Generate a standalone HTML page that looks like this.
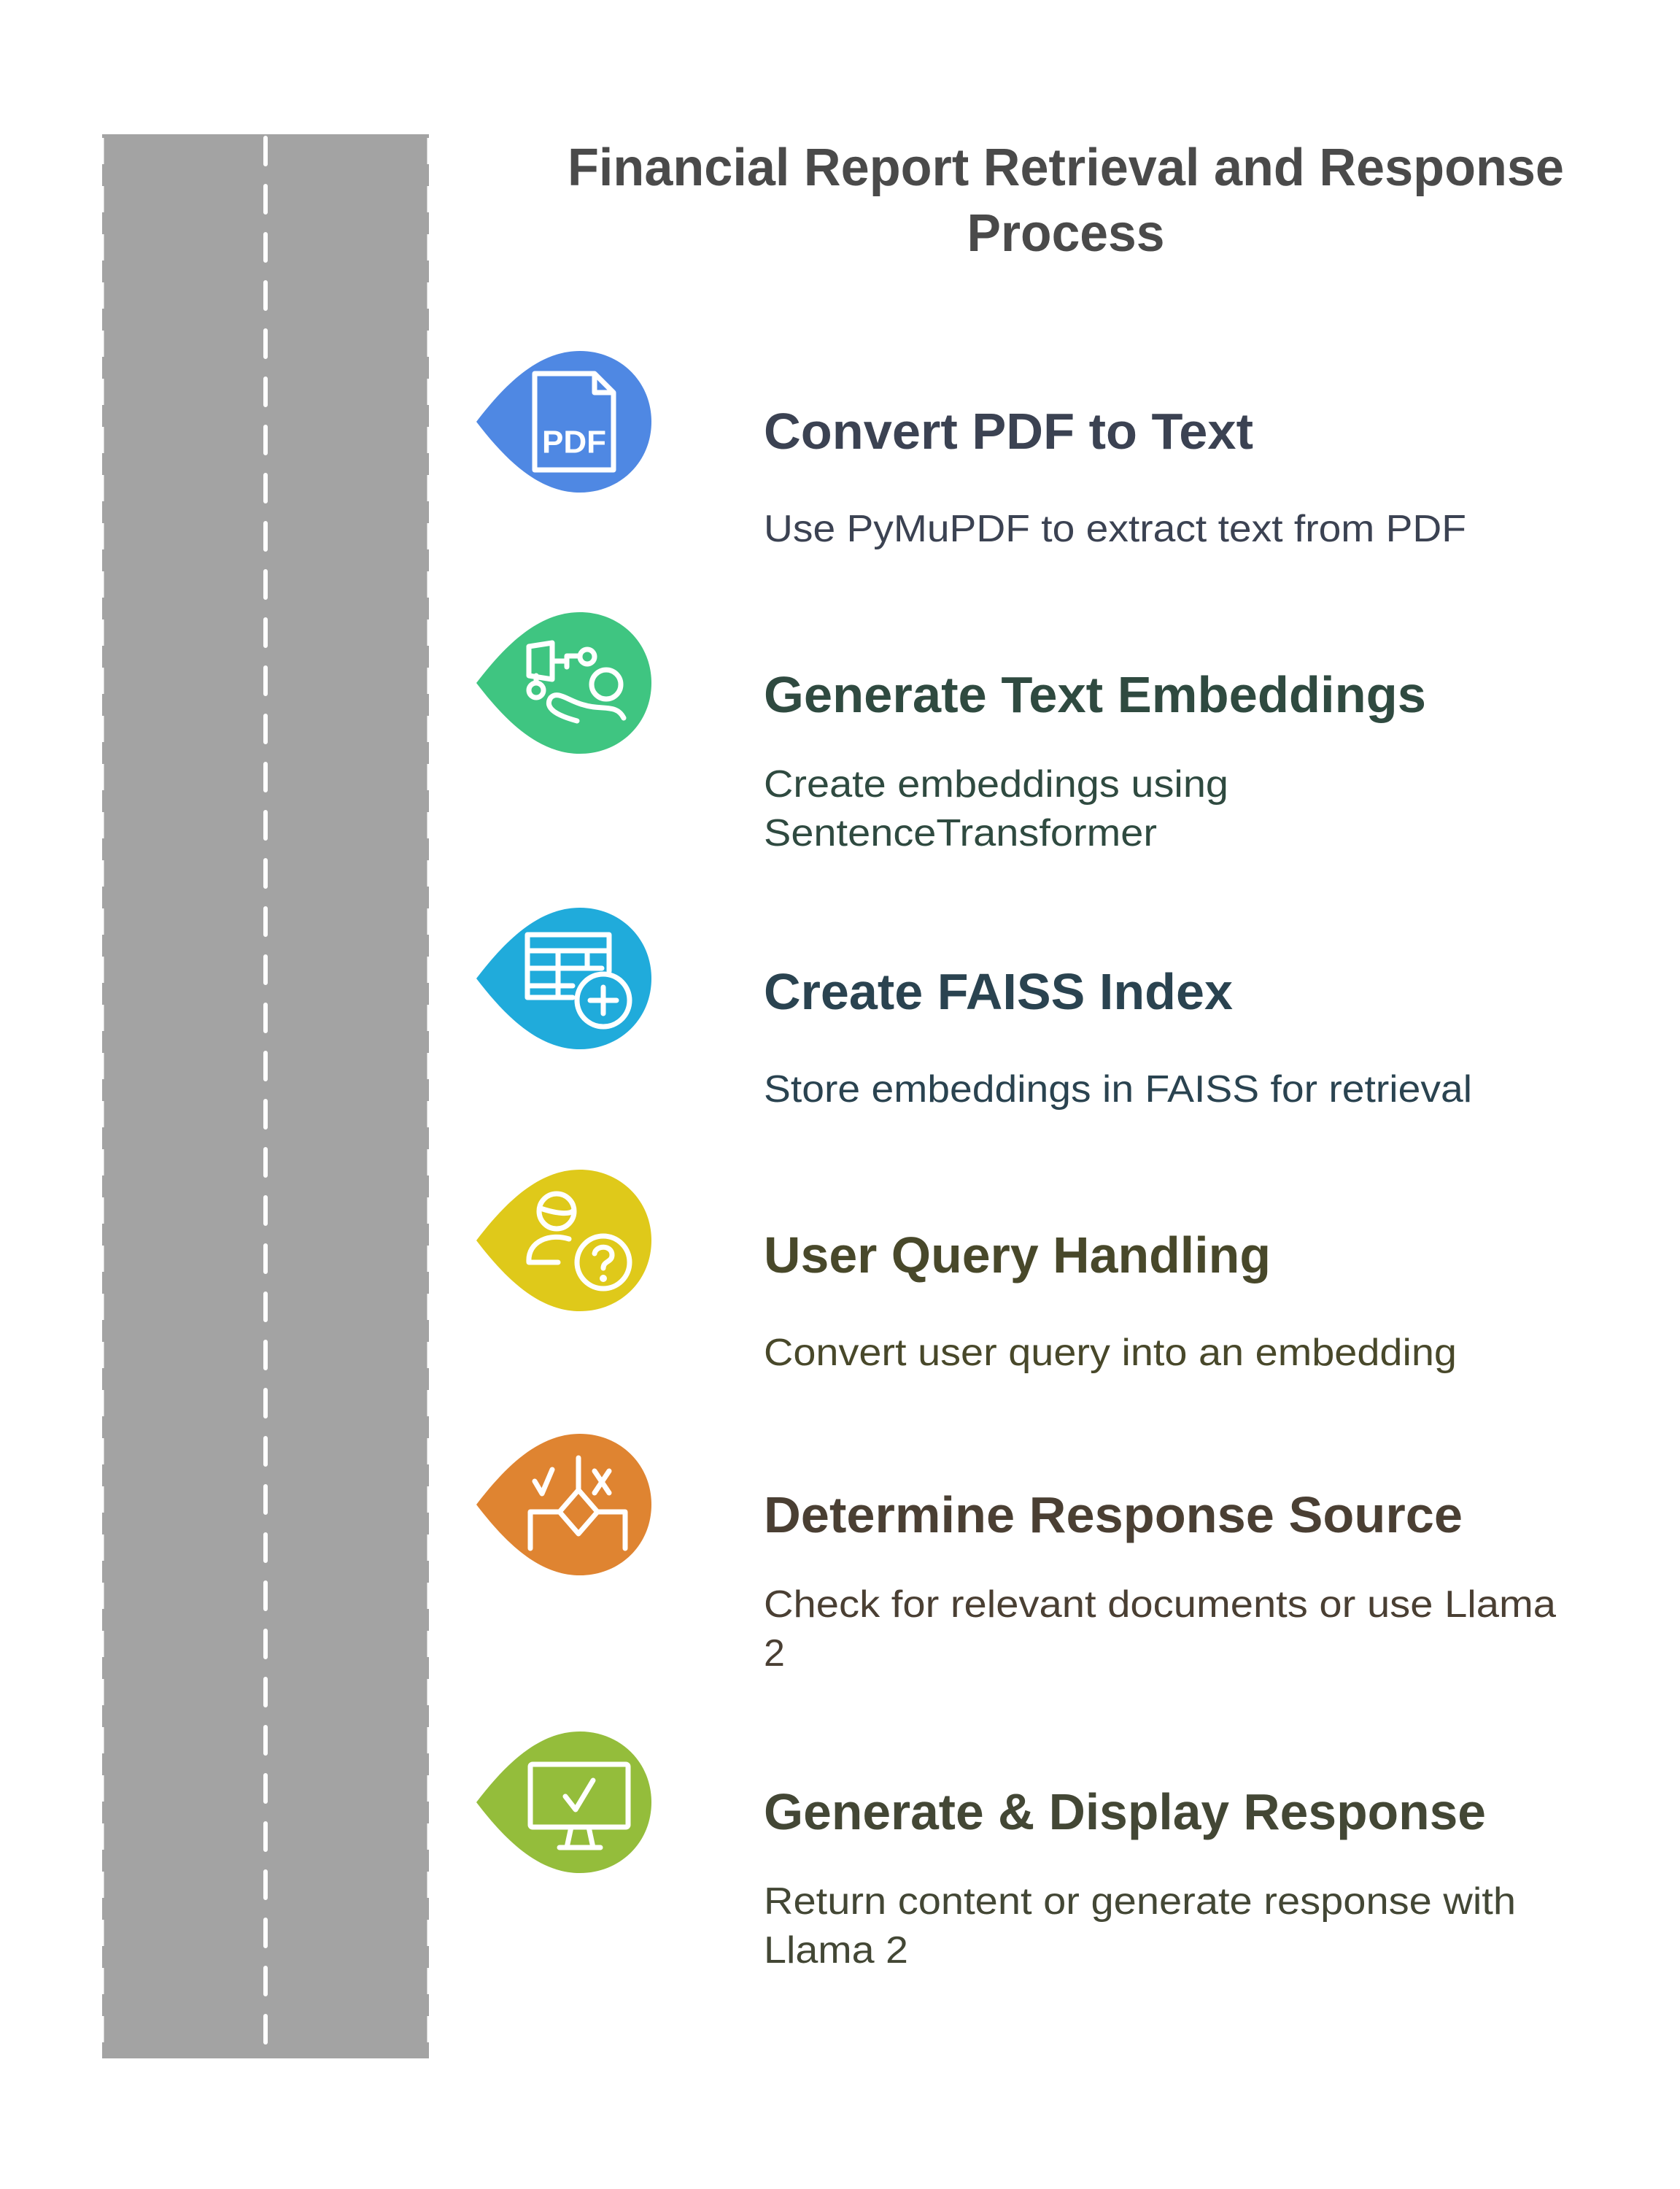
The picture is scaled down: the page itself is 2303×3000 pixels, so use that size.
<!DOCTYPE html>
<html><head><meta charset="utf-8"><style>
html,body{margin:0;padding:0;background:#fff;}
svg{display:block;}
text{font-family:"Liberation Sans",Arial,sans-serif;}
</style></head><body>
<svg width="2303" height="3000" viewBox="0 0 2303 3000" xmlns="http://www.w3.org/2000/svg">
<defs>
<path id="drop" d="M-142,0 C-100,-55 -55,-97 0,-97 C55,-97 98,-55 98,0 C98,55 55,97 0,97 C-55,97 -100,55 -142,0 Z"/>
</defs>
<!-- road -->
<rect x="140" y="184" width="448" height="2637" fill="#a3a3a3"/>
<line x1="364" y1="189" x2="364" y2="2821" stroke="#fff" stroke-width="6" stroke-dasharray="36 30" stroke-linecap="round"/>
<line x1="141" y1="189" x2="141" y2="2821" stroke="#fff" stroke-width="3" stroke-dasharray="36 30"/>
<line x1="587" y1="189" x2="587" y2="2821" stroke="#fff" stroke-width="3" stroke-dasharray="36 30"/>

<!-- main title -->
<text x="1461" y="230" font-size="72" font-weight="bold" fill="#4a4a4a" text-anchor="middle" dominant-baseline="central" textLength="1366" lengthAdjust="spacingAndGlyphs">Financial Report Retrieval and Response</text>
<text x="1461" y="320" font-size="72" font-weight="bold" fill="#4a4a4a" text-anchor="middle" dominant-baseline="central" textLength="271" lengthAdjust="spacingAndGlyphs">Process</text>

<!-- step 1 -->
<g transform="translate(795,578)">
<use href="#drop" fill="#4f88e3"/>
<g fill="none" stroke="#fff" stroke-width="7" stroke-linejoin="round">
<path d="M-62,-66 H20 L46,-40 V66 H-62 Z"/><path d="M20,-66 V-40 H46"/>
</g>
<text x="-8" y="28" font-size="44" font-weight="bold" fill="#fff" text-anchor="middle" dominant-baseline="central">PDF</text>
</g>
<text x="1047" y="591" font-size="70" font-weight="bold" fill="#3b4252" dominant-baseline="central" textLength="671" lengthAdjust="spacingAndGlyphs">Convert PDF to Text</text>
<text x="1047" y="725" font-size="52" fill="#3b4252" dominant-baseline="central" textLength="963" lengthAdjust="spacingAndGlyphs">Use PyMuPDF to extract text from PDF</text>

<!-- step 2 -->
<g transform="translate(795,936)">
<use href="#drop" fill="#3fc581"/>
<g fill="none" stroke="#fff" stroke-width="7" stroke-linecap="round" stroke-linejoin="round">
<path d="M-70,-50 L-38,-55 V-5 L-70,-10 Z"/><path d="M-38,-30 H-18 M-18,-37 V-22 M-18,-37 H-2"/>
<circle cx="10" cy="-36" r="10"/><circle cx="-60" cy="10" r="10"/><path d="M-60,-10 V0"/>
<circle cx="36" cy="2" r="20"/>
<path d="M-4,52 C-30,45 -50,35 -40,20 C-30,10 -15,25 5,30 C30,38 50,28 60,48"/>
</g>
</g>
<text x="1047" y="952" font-size="70" font-weight="bold" fill="#2f4a40" dominant-baseline="central" textLength="908" lengthAdjust="spacingAndGlyphs">Generate Text Embeddings</text>
<text x="1047" y="1075" font-size="52" fill="#2f4a40" dominant-baseline="central" textLength="637" lengthAdjust="spacingAndGlyphs">Create embeddings using</text>
<text x="1047" y="1142" font-size="52" fill="#2f4a40" dominant-baseline="central" textLength="539" lengthAdjust="spacingAndGlyphs">SentenceTransformer</text>

<!-- step 3 -->
<g transform="translate(795,1341)">
<use href="#drop" fill="#20abdb"/>
<g fill="none" stroke="#fff" stroke-width="7" stroke-linecap="round" stroke-linejoin="round">
<path d="M40,-10 V-60 H-72 V26 H-10"/>
<path d="M-72,-38 H40 M-72,-14 H30 M-72,10 H-10 M-30,-38 V26 M10,-38 V-14"/>
<circle cx="32" cy="30" r="36"/><path d="M32,12 V48 M14,30 H50"/>
</g>
</g>
<text x="1047" y="1359" font-size="70" font-weight="bold" fill="#2a4350" dominant-baseline="central" textLength="643" lengthAdjust="spacingAndGlyphs">Create FAISS Index</text>
<text x="1047" y="1493" font-size="52" fill="#2a4350" dominant-baseline="central" textLength="971" lengthAdjust="spacingAndGlyphs">Store embeddings in FAISS for retrieval</text>

<!-- step 4 -->
<g transform="translate(795,1700)">
<use href="#drop" fill="#dfc91a"/>
<g fill="none" stroke="#fff" stroke-width="7" stroke-linecap="round" stroke-linejoin="round">
<circle cx="-32" cy="-40" r="24"/><path d="M-54,-44 C-30,-36 -15,-36 -10,-40"/>
<path d="M-15,-2 C-40,-10 -72,0 -70,30 H-30"/>
<circle cx="32" cy="30" r="36"/>
<path d="M20,18 C22,6 44,6 44,20 C44,30 32,28 32,38"/>
</g>
<circle cx="32" cy="52" r="5" fill="#fff"/>
</g>
<text x="1047" y="1720" font-size="70" font-weight="bold" fill="#48482a" dominant-baseline="central" textLength="695" lengthAdjust="spacingAndGlyphs">User Query Handling</text>
<text x="1047" y="1854" font-size="52" fill="#48482a" dominant-baseline="central" textLength="950" lengthAdjust="spacingAndGlyphs">Convert user query into an embedding</text>

<!-- step 5 -->
<g transform="translate(795,2062)">
<use href="#drop" fill="#df8431"/>
<g fill="none" stroke="#fff" stroke-width="7" stroke-linecap="round" stroke-linejoin="round">
<path d="M-2,-64 V-20 M-2,-20 L-28,10 L-2,40 L24,10 Z"/>
<path d="M-28,10 H-68 V60 M24,10 H62 V60"/>
<path d="M-62,-32 L-52,-15 L-38,-48"/>
<path d="M20,-46 L40,-16 M40,-46 L20,-16"/>
</g>
</g>
<text x="1047" y="2076" font-size="70" font-weight="bold" fill="#4a3f33" dominant-baseline="central" textLength="958" lengthAdjust="spacingAndGlyphs">Determine Response Source</text>
<text x="1047" y="2199" font-size="52" fill="#4a3f33" dominant-baseline="central" textLength="1086" lengthAdjust="spacingAndGlyphs">Check for relevant documents or use Llama</text>
<text x="1047" y="2266" font-size="52" fill="#4a3f33" dominant-baseline="central">2</text>

<!-- step 6 -->
<g transform="translate(795,2470)">
<use href="#drop" fill="#94bd3b"/>
<g fill="none" stroke="#fff" stroke-width="7" stroke-linecap="round" stroke-linejoin="round">
<rect x="-68" y="-52" width="134" height="86" rx="3"/>
<path d="M-12,34 L-18,62 M12,34 L18,62 M-28,62 H28"/>
<path d="M-20,-8 L-6,10 L18,-30"/>
</g>
</g>
<text x="1047" y="2483" font-size="70" font-weight="bold" fill="#434735" dominant-baseline="central" textLength="990" lengthAdjust="spacingAndGlyphs">Generate &amp; Display Response</text>
<text x="1047" y="2606" font-size="52" fill="#434735" dominant-baseline="central" textLength="1031" lengthAdjust="spacingAndGlyphs">Return content or generate response with</text>
<text x="1047" y="2673" font-size="52" fill="#434735" dominant-baseline="central" textLength="198" lengthAdjust="spacingAndGlyphs">Llama 2</text>
</svg>
</body></html>
